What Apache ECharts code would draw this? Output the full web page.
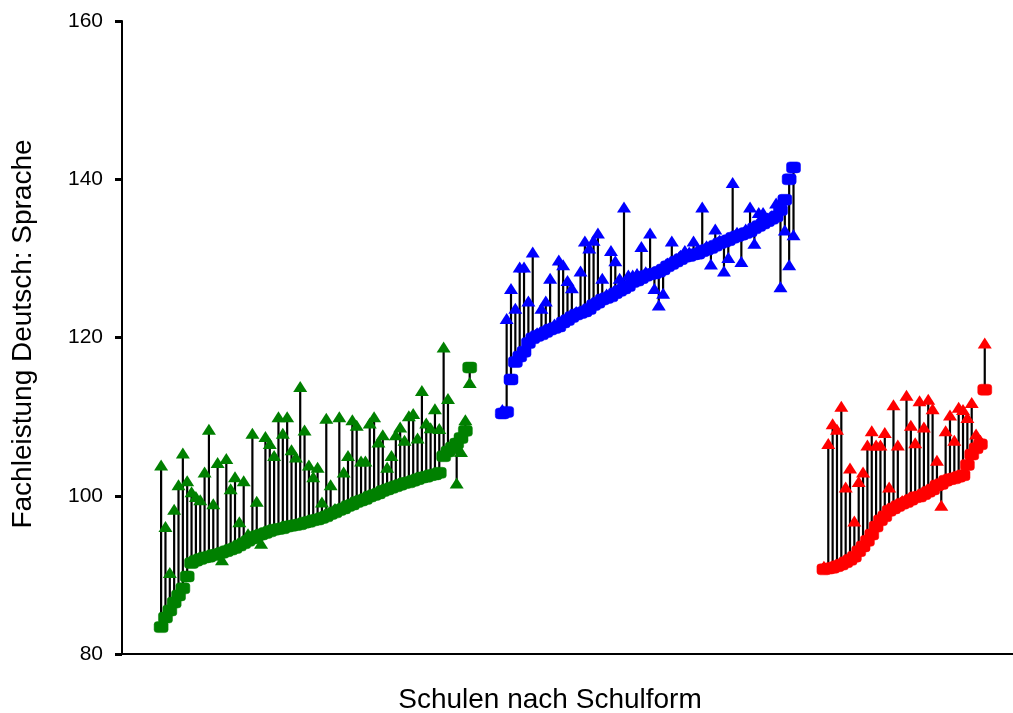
<!DOCTYPE html>
<html>
<head>
<meta charset="utf-8">
<script src="https://cdn.jsdelivr.net/npm/echarts@6/dist/echarts.min.js"></script>
<style>
html,body{margin:0;padding:0;background:#fff;}
#chart{width:1013px;height:713px;}
</style>
</head>
<body>
<div id="chart"></div>
<script>
// ---- Data ----
const yAxisTitle = 'Fachleistung Deutsch: Sprache';
const xAxisTitle = 'Schulen nach Schulform';
const yMin = 80, yMax = 160, yInterval = 20;
const xMin = 0, xMax = 205;            // rank positions of the schools along the x axis
const groupStarts = [9, 87.5, 161.5];  // first rank position of each school-type group
const groupColors = ['#008000', '#0000ff', '#ff0000'];

// Group 1 (green): squares = sorted school value, triangles = comparison value
const greenSquares = [
  83.4, 84.6, 85.5, 86.5, 87.4, 88.3, 89.8, 91.5, 91.8, 92.0,
  92.2, 92.3, 92.5, 92.6, 92.8, 93.0, 93.2, 93.4, 93.7, 94.0,
  94.3, 94.6, 94.9, 95.1, 95.3, 95.5, 95.7, 95.8, 95.9, 96.1,
  96.2, 96.3, 96.4, 96.6, 96.7, 96.9, 97.0, 97.2, 97.4, 97.7,
  97.9, 98.2, 98.4, 98.7, 98.9, 99.2, 99.4, 99.6, 99.9, 100.1,
  100.3, 100.6, 100.8, 101.0, 101.2, 101.4, 101.6, 101.7, 101.9, 102.1,
  102.3, 102.4, 102.6, 102.7, 102.9, 105.0, 105.6, 106.1, 106.6, 107.3,
  108.2, 116.2
];
const greenTriangles = [
  103.9, 96.1, 90.3, 98.3, 101.4, 105.4, 101.9, 100.5, 99.9, 99.5,
  103.0, 108.4, 99.0, 104.2, 91.9, 104.7, 100.9, 102.4, 96.7, 101.9,
  95.2, 107.9, 99.3, 94.0, 107.5, 106.6, 105.1, 110.0, 107.9, 110.0,
  105.8, 104.9, 113.8, 108.3, 103.9, 102.4, 103.6, 99.2, 109.8, 101.4,
  98.4, 110.0, 103.0, 105.1, 109.6, 108.9, 104.4, 104.4, 109.2, 110.0,
  106.8, 107.7, 103.6, 105.1, 107.7, 108.7, 107.0, 110.1, 110.4, 107.3,
  113.3, 109.2, 108.6, 111.0, 108.5, 118.8, 112.3, 106.0, 101.6, 105.6,
  109.6, 114.3
];

// Group 2 (blue)
const blueSquares = [
  110.4, 110.6, 114.7, 116.9, 117.6, 118.2, 119.3, 119.9, 120.2, 120.4,
  120.7, 121.0, 121.2, 121.4, 121.9, 122.2, 122.6, 122.9, 123.1, 123.3,
  123.6, 124.1, 124.4, 124.8, 125.0, 125.2, 125.6, 125.9, 126.2, 126.5,
  127.0, 127.2, 127.5, 127.8, 128.0, 128.1, 128.3, 128.6, 129.0, 129.3,
  129.6, 129.9, 130.2, 130.3, 130.5, 130.6, 130.9, 131.1, 131.3, 131.6,
  131.9, 132.1, 132.3, 132.6, 132.8, 133.0, 133.2, 133.4, 133.8, 134.1,
  134.4, 134.7, 135.0, 135.3, 136.1, 137.4, 140.0, 141.5
];
const blueTriangles = [
  110.9, 122.4, 126.2, 123.7, 128.9, 128.9, 124.6, 130.8, 120.6, 123.7,
  124.6, 127.5, 121.7, 129.8, 129.2, 127.2, 126.3, 123.3, 128.4, 132.2,
  131.3, 132.3, 133.2, 127.5, 125.5, 131.0, 129.7, 127.5, 136.5, 127.9,
  127.9, 128.1, 131.5, 128.3, 133.2, 126.2, 124.1, 125.6, 129.4, 132.2,
  130.0, 130.4, 131.0, 130.8, 132.2, 131.1, 136.5, 131.6, 129.3, 133.7,
  132.3, 128.4, 130.1, 139.6, 133.3, 129.6, 133.7, 136.5, 131.9, 135.8,
  135.8, 135.1, 135.4, 137.0, 126.4, 133.6, 129.2, 133.0
];

// Group 3 (red)
const redSquares = [
  90.7, 90.8, 90.9, 91.1, 91.3, 91.6, 91.9, 92.3, 93.0, 93.6,
  94.3, 95.1, 96.1, 96.9, 97.4, 98.1, 98.4, 98.7, 99.0, 99.2,
  99.5, 99.8, 99.9, 100.2, 100.5, 100.8, 101.3, 101.5, 101.9, 102.1,
  102.2, 102.4, 102.6, 103.9, 105.2, 106.0, 106.5, 113.4
];
const redTriangles = [
  91.1, 106.6, 109.1, 108.4, 111.3, 101.1, 103.5, 96.8, 101.8, 103.0,
  106.4, 108.2, 106.4, 106.4, 108.0, 101.1, 111.5, 106.4, 99.4, 112.7,
  108.9, 106.7, 112.0, 108.7, 112.2, 111.0, 104.5, 98.8, 108.2, 110.2,
  107.0, 111.2, 110.9, 109.9, 111.8, 107.8, 107.0, 119.3
];

const groups = [
  { squares: greenSquares, triangles: greenTriangles },
  { squares: blueSquares, triangles: blueTriangles },
  { squares: redSquares, triangles: redTriangles }
];

// ---- Chart ----
const FONT = '"Liberation Sans", Arial, Helvetica, sans-serif';
const chart = echarts.init(document.getElementById('chart'), null, { renderer: 'canvas' });

const series = [];
groups.forEach((g, gi) => {
  const start = groupStarts[gi];
  const color = groupColors[gi];
  const lineData = g.squares.map((v, i) => [start + i, v, g.triangles[i]]);
  series.push({
    type: 'custom',
    z: 1,
    silent: true,
    encode: { x: 0, y: [1, 2] },
    data: lineData,
    renderItem: function (params, api) {
      const p1 = api.coord([api.value(0), api.value(1)]);
      const p2 = api.coord([api.value(0), api.value(2)]);
      return {
        type: 'line',
        shape: { x1: p1[0], y1: p1[1], x2: p2[0], y2: p2[1] },
        style: { stroke: '#000000', lineWidth: 2.2 }
      };
    }
  });
  series.push({
    type: 'scatter',
    z: 2,
    symbol: 'triangle',
    symbolSize: [14, 11],
    itemStyle: { color: color, opacity: 1 },
    data: g.triangles.map((v, i) => [start + i, v])
  });
  series.push({
    type: 'scatter',
    z: 3,
    symbol: 'roundRect',
    symbolSize: [14, 11],
    itemStyle: { color: color, opacity: 1, borderColor: color, borderWidth: 0.5 },
    data: g.squares.map((v, i) => [start + i, v])
  });
});

chart.setOption({
  animation: false,
  backgroundColor: '#ffffff',
  grid: { left: 122, right: 0, top: 21, bottom: 59, containLabel: false },
  xAxis: {
    type: 'value',
    min: xMin,
    max: xMax,
    axisLine: { show: true, onZero: false, lineStyle: { color: '#000', width: 2 } },
    axisTick: { show: false },
    axisLabel: { show: false },
    splitLine: { show: false }
  },
  yAxis: {
    type: 'value',
    min: yMin,
    max: yMax,
    interval: yInterval,
    axisLine: { show: true, lineStyle: { color: '#000', width: 2 } },
    axisTick: { show: true, inside: false, length: 7, lineStyle: { color: '#000', width: 3 } },
    axisLabel: { color: '#000', fontFamily: FONT, fontSize: 21, margin: 19 },
    splitLine: { show: false }
  },
  graphic: [
    {
      type: 'text',
      x: 23, y: 334,
      rotation: Math.PI / 2,
      style: {
        text: yAxisTitle, fill: '#000', font: '28px ' + FONT,
        align: 'center', verticalAlign: 'middle'
      }
    },
    {
      type: 'text',
      x: 550, y: 700,
      style: {
        text: xAxisTitle, fill: '#000', font: '28px ' + FONT,
        align: 'center', verticalAlign: 'middle'
      }
    }
  ],
  series: series
});
</script>
</body>
</html>
